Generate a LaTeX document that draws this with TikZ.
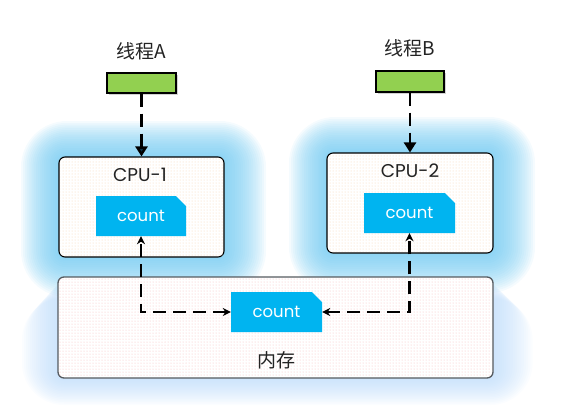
\documentclass[tikz,border=0pt]{standalone}
\usepackage{fontspec}
\setmainfont{Poppins}
\newfontfamily\cjk{Noto Sans CJK SC}
\usetikzlibrary{shapes.misc,shadows,patterns,arrows.meta}
\definecolor{glowc}{RGB}{110,200,241}
\definecolor{memglow}{RGB}{175,212,250}
\definecolor{cntblue}{RGB}{0,180,240}
\definecolor{thgreen}{RGB}{146,208,80}
\definecolor{cpudot}{RGB}{248,212,180}
\definecolor{memdot}{RGB}{248,190,190}
\definecolor{tipnavy}{RGB}{10,50,70}
\definecolor{txt}{RGB}{35,35,35}
\tikzset{
  thread/.style={draw=black, line width=1.1pt, fill=thgreen, minimum width=69pt, minimum height=20pt, inner sep=0pt,
    drop shadow={shadow xshift=1.5pt, shadow yshift=-1.5pt, opacity=0.35}},
  cpubox/.style={draw=black, line width=1.1pt, rounded corners=6pt, fill=white, minimum width=165pt, minimum height=100pt, inner sep=0pt},
  membox/.style={draw={rgb,255:red,85;green,90;blue,95}, line width=1.3pt, rounded corners=6pt, fill=white, minimum width=435pt, minimum height=101pt, inner sep=0pt},
  countbox/.style={chamfered rectangle, chamfered rectangle corners=north east, chamfered rectangle xsep=5pt, chamfered rectangle ysep=5pt,
    fill=cntblue, minimum width=90pt, minimum height=40pt, inner sep=0pt, text=white, font=\fontsize{16.5}{18}\selectfont},
  lbl/.style={font=\cjk\fontsize{19}{21}\selectfont, inner sep=0pt, text=txt},
  cpulbl/.style={font=\fontsize{18.5}{20}\selectfont, inner sep=0pt, text=txt},
  darrowA/.style={line width=2.4pt, dash pattern=on 13pt off 7pt, -{Triangle[length=10pt,width=12pt,fill=tipnavy]}},
  darrowB/.style={line width=2.4pt, dash pattern=on 13pt off 7pt, -{Triangle[length=10pt,width=12pt]}},
  memarrow/.style={line width=2.4pt, dash pattern=on 13pt off 7pt, {Stealth[length=8pt,width=8pt]}-{Stealth[length=8pt,width=8pt]}},
}
\begin{document}
\begin{tikzpicture}[x=1pt,y=-1pt]
\useasboundingbox (0,0) rectangle (581,405);
% glows
\foreach \i in {1,...,18}{
  \fill[memglow, opacity=0.05, rounded corners=6pt+\i*2pt] (58-\i*2,280+\i*1) rectangle (493+\i*2.2,378+\i*1.5);
}
\foreach \i in {1,...,20}{
  \fill[glowc, opacity=0.07, rounded corners=6pt+\i*2pt] (59-\i*1.9,157-\i*1.8) rectangle (224+\i*2.1,257+\i*2);
  \fill[glowc, opacity=0.07, rounded corners=6pt+\i*2pt] (327-\i*1.9,153-\i*1.8) rectangle (493+\i*2.1,253+\i*2);
}
% boxes
\node[membox] (mem) at (275.5,327.5) {};
\fill[pattern=dots, pattern color=memdot] ([shift={(2pt,-2pt)}]mem.north west) rectangle ([shift={(-2pt,2pt)}]mem.south east);
\node[cpubox] (cpu1) at (141.5,207) {};
\node[cpubox, minimum width=166pt] (cpu2) at (410,203) {};
\fill[pattern=dots, pattern color=cpudot] ([shift={(2pt,-2pt)}]cpu1.north west) rectangle ([shift={(-2pt,2pt)}]cpu1.south east);
\fill[pattern=dots, pattern color=cpudot] ([shift={(2pt,-2pt)}]cpu2.north west) rectangle ([shift={(-2pt,2pt)}]cpu2.south east);
\node[cpulbl] (cpu1l) at (140,175) {CPU-1};
\node[cpulbl] (cpu2l) at (410,171) {CPU-2};
\node[countbox] (c1) at (141,216) {count};
\node[countbox, minimum width=91pt] (c2) at (409.5,213) {count};
\node[countbox, minimum width=91pt] (mc) at (276.5,312) {count};
\node[lbl] (meml) at (276,360) {内存};
% threads
\node[thread] (ta) at (141.5,83) {};
\node[thread, minimum width=68pt, minimum height=21pt] (tb) at (410,81.5) {};
\node[lbl] (tal) at (141,51) {线程A};
\node[lbl] (tbl) at (410,48) {线程B};
% arrows
\draw[darrowA] (ta.south) -- (ta.south |- cpu1.north);
\draw[darrowB] (tb.south) -- (tb.south |- cpu2.north);
\draw[memarrow] (mc.west) -- (mc.west -| c1.south) -- (c1.south);
\draw[memarrow] (mc.east) -- (mc.east -| c2.south) -- (c2.south);
\end{tikzpicture}
\end{document}
